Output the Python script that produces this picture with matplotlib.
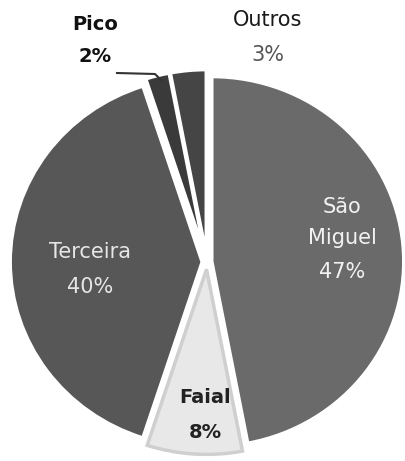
import matplotlib
matplotlib.use("Agg")
import matplotlib.pyplot as plt

categories = ["São Miguel", "Faial", "Terceira", "Pico", "Outros"]
values = [47, 8, 40, 2, 3]
colors = ["#6a6a6a", "#e8e8e8", "#575757", "#3a3a3a", "#454545"]
explode = [0.025, 0.04, 0.025, 0.04, 0.04]

W, H = 405, 461
fig = plt.figure(figsize=(W / 100, H / 100), dpi=100)
ax = fig.add_axes([0, 0, 1, 1])

# pie centre in pixels and horizontal / vertical radius in pixels
pcx, pcy, rx, ry = 207, 262, 192, 185
wedges, _ = ax.pie(values, colors=colors, explode=explode, startangle=90,
                   counterclock=False, radius=1, center=(0, 0),
                   wedgeprops=dict(edgecolor="white", linewidth=2.5))
wedges[1].set_edgecolor("#cfcfcf")

ax.set_xlim(-pcx / rx, (W - pcx) / rx)
ax.set_ylim(-(H - pcy) / ry, pcy / ry)
ax.set_aspect("auto")
ax.axis("off")

font = "DejaVu Sans"
tf = fig.transFigure

def txt(x, y, s, color, weight="normal", fs=15):
    fig.text(x / W, 1 - y / H, s, ha="center", va="center", fontsize=fs,
             color=color, fontweight=weight, family=font)

# São Miguel
txt(342, 207, "São", "#f2f2f2")
txt(342, 238, "Miguel", "#f2f2f2")
txt(342, 272, "47%", "#f2f2f2")
# Terceira
txt(90, 252, "Terceira", "#e6e6e6")
txt(90, 287, "40%", "#e6e6e6")
# Faial
txt(205, 397, "Faial", "#222222", "bold", 14)
txt(205, 432, "8%", "#222222", "bold", 14)
# Pico
txt(95, 25, "Pico", "#111111", "bold", 14)
txt(95, 57, "2%", "#111111", "bold", 14)
# Outros
txt(268, 20, "Outros", "#1a1a1a")
txt(268, 55, "3%", "#555555")

# leader line for Pico
lx = [117, 155, 161]
ly = [73, 74, 80]
fig.add_artist(plt.Line2D([x / W for x in lx], [1 - y / H for y in ly],
                          transform=tf, color="#333333", lw=1.5))

fig.savefig("out.png", dpi=100, facecolor="white")
